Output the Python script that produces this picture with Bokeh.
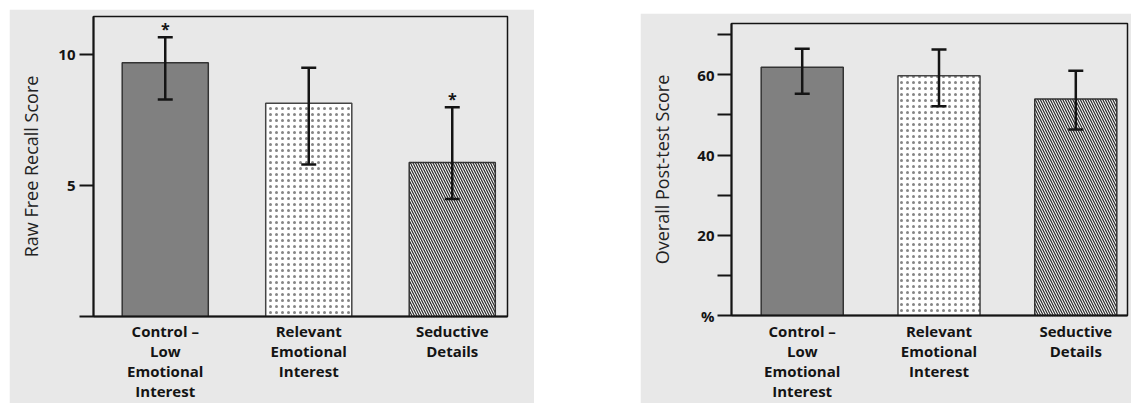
from bokeh.plotting import figure
from bokeh.models import ColumnDataSource, Whisker, TeeHead, FixedTicker, Range1d, Spacer
from bokeh.layouts import row, column
from bokeh.embed import file_html
from bokeh.resources import INLINE
from bokeh.core.properties import value

# ---------------- data ----------------
categories = ["Control –\nLow\nEmotional\nInterest",
              "Relevant\nEmotional\nInterest",
              "Seductive\nDetails"]

recall_mean = [9.70, 8.15, 5.89]
recall_upper = [10.68, 9.51, 8.00]
recall_lower = [8.30, 5.81, 4.49]
recall_marks = ["*", "", "*"]
recall_ticks = [0, 5, 10]
recall_tick_labels = ["", "5", "10"]
recall_title = "Raw Free Recall Score"

posttest_mean = [61.9, 59.8, 54.0]
posttest_upper = [66.5, 66.3, 61.0]
posttest_lower = [55.3, 52.2, 46.4]
posttest_marks = ["", "", ""]
posttest_ticks = [0, 10, 20, 30, 40, 50, 60, 70]
posttest_tick_labels = ["%", "", "20", "", "40", "", "60", ""]
posttest_title = "Overall Post-test Score"

# ---------------- styles ----------------
BG = "#e8e8e8"
INK = "#141414"
BAR_FILLS = ["#808080", "#ffffff", "#f4f4f4"]
BAR_LINES = ["#333333", "#444444", "#333333"]
BAR_HATCH = [" ", ".", "\\"]
BAR_HATCH_SCALE = [4, 6, 5]
BAR_HATCH_WEIGHT = [1, 0.6, 1.15]
BAR_HATCH_COLOR = ["#808080", "#858585", "#262626"]
FONT = "Open Sans"


def make_panel(mean, upper, lower, marks, ticks, tick_labels, title,
               width, height, y_end, x_start, x_end,
               mb_left, mb_right, mb_top, tick_standoff, title_standoff,
               label_standoff, whisker_w):
    xs = list(range(len(categories)))
    src = ColumnDataSource(dict(
        x=xs, top=mean, upper=upper, lower=lower, marks=marks,
        fill=BAR_FILLS, line=BAR_LINES, hatch=BAR_HATCH,
        hscale=BAR_HATCH_SCALE, hweight=BAR_HATCH_WEIGHT, hcolor=BAR_HATCH_COLOR,
    ))
    p = figure(width=width, height=height,
               x_range=Range1d(x_start, x_end), y_range=Range1d(0, y_end),
               output_backend="svg", toolbar_location=None,
               min_border_left=mb_left, min_border_right=mb_right,
               min_border_top=mb_top, min_border_bottom=0)
    p.background_fill_color = BG
    p.border_fill_color = BG
    p.outline_line_color = INK
    p.outline_line_width = 1.5
    p.xgrid.visible = False
    p.ygrid.visible = False

    p.vbar(x="x", top="top", bottom=0, width=0.6, source=src,
           fill_color="fill", line_color="line", line_width=1.5,
           hatch_pattern="hatch", hatch_scale="hscale",
           hatch_weight="hweight", hatch_color="hcolor")

    w = Whisker(base="x", upper="upper", lower="lower", source=src,
                line_color=INK, line_width=whisker_w, level="overlay",
                upper_head=TeeHead(size=15, line_color=INK, line_width=whisker_w),
                lower_head=TeeHead(size=15, line_color=INK, line_width=whisker_w))
    p.add_layout(w)

    p.text(x="x", y="upper", text="marks", source=src,
           text_align="center", text_baseline="alphabetic", y_offset=-8,
           text_font=value(FONT), text_font_size="16px",
           text_font_style="bold", text_color=INK)

    # y axis
    ya = p.yaxis[0]
    ya.ticker = FixedTicker(ticks=ticks, minor_ticks=[])
    ya.major_label_overrides = {t: l for t, l in zip(ticks, tick_labels)}
    ya.major_tick_out = 14
    ya.major_tick_in = 0
    ya.minor_tick_out = 0
    ya.minor_tick_in = 0
    ya.axis_line_width = 2
    ya.axis_line_color = INK
    ya.major_tick_line_width = 2
    ya.major_tick_line_color = INK
    ya.major_label_standoff = tick_standoff
    ya.major_label_text_font = FONT
    ya.major_label_text_font_style = "bold"
    ya.major_label_text_font_size = "15px"
    ya.major_label_text_color = INK
    ya.axis_label = title
    ya.axis_label_standoff = title_standoff
    ya.axis_label_text_font = FONT
    ya.axis_label_text_font_style = "normal"
    ya.axis_label_text_font_size = "18px"
    ya.axis_label_text_color = "#222222"

    # x axis
    xa = p.xaxis[0]
    xa.ticker = FixedTicker(ticks=xs, minor_ticks=[])
    xa.major_label_overrides = {i: c for i, c in enumerate(categories)}
    xa.major_tick_out = 0
    xa.major_tick_in = 0
    xa.minor_tick_out = 0
    xa.minor_tick_in = 0
    xa.axis_line_width = 2
    xa.axis_line_color = INK
    xa.major_label_standoff = label_standoff
    xa.major_label_text_font = FONT
    xa.major_label_text_font_style = "bold"
    xa.major_label_text_font_size = "15px"
    xa.major_label_text_line_height = 1.0
    xa.major_label_text_color = INK
    return p


p1 = make_panel(recall_mean, recall_upper, recall_lower, recall_marks,
                recall_ticks, recall_tick_labels, recall_title,
                width=525, height=394, y_end=11.47, x_start=-0.5, x_end=2.385,
                mb_left=84, mb_right=27, mb_top=7,
                tick_standoff=4, title_standoff=12, label_standoff=4,
                whisker_w=2.5)

p2 = make_panel(posttest_mean, posttest_upper, posttest_lower, posttest_marks,
                posttest_ticks, posttest_tick_labels, posttest_title,
                width=491, height=390, y_end=72.8, x_start=-0.517, x_end=2.378,
                mb_left=91, mb_right=4, mb_top=10,
                tick_standoff=3, title_standoff=20, label_standoff=5,
                whisker_w=2.5)

layout = column(
    Spacer(width=1131, height=9),
    row(Spacer(width=9, height=394), p1, Spacer(width=106, height=394),
        column(Spacer(width=491, height=4), p2)),
)

open("out.html", "w").write(file_html(layout, INLINE))
